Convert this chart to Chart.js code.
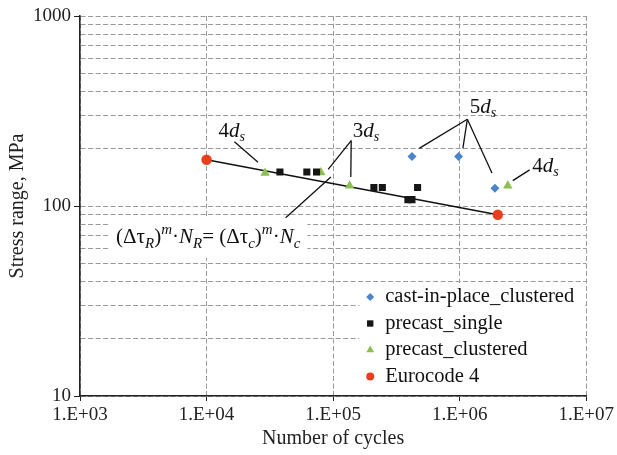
<!DOCTYPE html>
<html>
<head>
<meta charset="utf-8">
<script src="https://cdn.jsdelivr.net/npm/chart.js@4/dist/chart.umd.min.js"></script>
<style>
  html, body { margin: 0; padding: 0; background: #fff; }
  #wrap { width: 617px; height: 455px; }
</style>
</head>
<body>
<div id="wrap"><canvas id="snChart"></canvas></div>
<script>
// data (cycles, stress range in MPa)
const castInPlaceN = [4.2e5, 9.8e5, 1.9e6];
const castInPlaceS = [182, 182, 124];
const precastSingleN = [3.8e4, 6.2e4, 7.4e4, 2.1e5, 2.45e5, 3.9e5, 4.2e5, 4.65e5];
const precastSingleS = [151, 151, 151, 125, 125, 108, 108, 125];
const precastClusteredN = [2.9e4, 8.0e4, 1.35e5, 2.4e6];
const precastClusteredS = [149, 150, 128, 128];
const eurocodeN = [1e4, 2e6];
const eurocodeS = [175, 90];

const seriesNames = ['cast-in-place_clustered', 'precast_single', 'precast_clustered', 'Eurocode 4'];
const xTickValues = [1e3, 1e4, 1e5, 1e6, 1e7];
const yTickValues = [10, 20, 30, 40, 50, 60, 70, 80, 90, 100, 200, 300, 400, 500, 600, 700, 800, 900, 1000];

const SERIF = '"Liberation Serif", "DejaVu Serif", serif';

function pts(xs, ys) { return xs.map((x, i) => ({ x: x, y: ys[i] })); }

// leader lines + labels, in data coordinates
const leaders = [
  { label: '4', sub: 's', at: [1.58e4, 251], lines: [[[1.66e4, 218], [2.55e4, 170]]] },
  { label: '3', sub: 's', at: [1.82e5, 251], lines: [[[1.39e5, 221], [9.14e4, 156]], [[1.39e5, 221], [1.38e5, 142]]] },
  { label: '5', sub: 's', at: [1.53e6, 336], lines: [[[1.15e6, 286], [4.79e5, 201]], [[1.15e6, 286], [1.06e6, 201]], [[1.15e6, 286], [1.8e6, 149]]] },
  { label: '4', sub: 's', at: [4.77e6, 164], lines: [[[3.57e6, 155], [2.63e6, 136]]] }
];
const formulaLine = [[4.2e4, 86.5], [9.6e4, 142]];
const formulaAt = [1.03e4, 64];

const isMajor = v => Math.abs(Math.log10(v) - Math.round(Math.log10(v))) < 1e-9;

const overlay = {
  id: 'overlay',
  afterDatasetsDraw(chart) {
    const ctx = chart.ctx;
    const xs = chart.scales.x, ys = chart.scales.y;
    const px = p => [xs.getPixelForValue(p[0]), ys.getPixelForValue(p[1])];
    ctx.save();
    ctx.strokeStyle = '#111';
    ctx.lineWidth = 1.3;
    ctx.fillStyle = '#111';
    ctx.textBaseline = 'alphabetic';
    ctx.textAlign = 'left';

    // leaders
    leaders.forEach(a => {
      a.lines.forEach(l => {
        const p0 = px(l[0]), p1 = px(l[1]);
        ctx.beginPath(); ctx.moveTo(p0[0], p0[1]); ctx.lineTo(p1[0], p1[1]); ctx.stroke();
      });
      const c = px(a.at);
      ctx.font = '21px ' + SERIF;
      const w1 = ctx.measureText(a.label).width;
      ctx.font = 'italic 21px ' + SERIF;
      const w2 = ctx.measureText('d').width;
      ctx.font = 'italic 14px ' + SERIF;
      const w3 = ctx.measureText(a.sub).width;
      let x = c[0] - (w1 + w2 + w3) / 2;
      const y = c[1] + 7;
      ctx.font = '21px ' + SERIF; ctx.fillText(a.label, x, y); x += w1;
      ctx.font = 'italic 21px ' + SERIF; ctx.fillText('d', x, y); x += w2;
      ctx.font = 'italic 14px ' + SERIF; ctx.fillText(a.sub, x, y + 4);
    });

    // formula line
    const f0 = px(formulaLine[0]), f1 = px(formulaLine[1]);
    ctx.beginPath(); ctx.moveTo(f0[0], f0[1]); ctx.lineTo(f1[0], f1[1]); ctx.stroke();

    // formula box + text
    const parts = [
      ['(\u0394\u03c4', 'n'], ['R', 'sub'], [')', 'n'], ['m', 'sup'], ['\u00b7', 'n'], ['N', 'i'], ['R', 'sub'],
      ['= (\u0394\u03c4', 'n'], ['c', 'sub'], [')', 'n'], ['m', 'sup'], ['\u00b7', 'n'], ['N', 'i'], ['c', 'sub']
    ];
    const fontOf = s => s === 'n' ? '21px ' + SERIF : s === 'i' ? 'italic 21px ' + SERIF : 'italic 15px ' + SERIF;
    let total = 0;
    parts.forEach(p => { ctx.font = fontOf(p[1]); p.w = ctx.measureText(p[0]).width; total += p.w; });
    const fc = px(formulaAt);
    ctx.fillStyle = '#fff';
    ctx.fillRect(fc[0] - total / 2 - 7, fc[1] - 25, total + 14, 40);
    ctx.fillStyle = '#111';
    let fx = fc[0] - total / 2;
    parts.forEach(p => {
      ctx.font = fontOf(p[1]);
      const dy = p[1] === 'sub' ? 5 : p[1] === 'sup' ? -9 : 0;
      ctx.fillText(p[0], fx, fc[1] + dy);
      fx += p.w;
    });

    // legend inside plot, bottom right
    const area = chart.chartArea;
    const lw = 226, lh = 112;
    const lx = area.right - lw - 1, ly = area.bottom - lh - 1;
    ctx.fillStyle = '#fff';
    ctx.fillRect(lx, ly, lw, lh);
    chart.data.datasets.forEach((ds, i) => {
      const ry = ly + 14 + i * 26.5;
      ctx.fillStyle = ds.backgroundColor;
      ctx.strokeStyle = ds.backgroundColor;
      Chart.helpers.drawPoint(ctx, { pointStyle: ds.pointStyle, radius: ds.legendRadius, rotation: 0, borderWidth: 0 }, lx + 11, ry);
      ctx.fillStyle = '#111';
      ctx.font = '20.5px ' + SERIF;
      ctx.textBaseline = 'middle';
      ctx.fillText(ds.label, lx + 26, ry);
      ctx.textBaseline = 'alphabetic';
    });
    ctx.restore();
  }
};

const gridDash = [5, 2.5];

new Chart(document.getElementById('snChart'), {
  type: 'scatter',
  data: {
    datasets: [
      { label: seriesNames[0], data: pts(castInPlaceN, castInPlaceS), backgroundColor: '#4a85c9', borderColor: '#4a85c9',
        pointStyle: 'rectRot', pointRadius: 4.5, borderWidth: 0, legendRadius: 4 },
      { label: seriesNames[1], data: pts(precastSingleN, precastSingleS), backgroundColor: '#161616', borderColor: '#161616',
        pointStyle: 'rect', pointRadius: 5, borderWidth: 0, legendRadius: 4.5 },
      { label: seriesNames[2], data: pts(precastClusteredN, precastClusteredS), backgroundColor: '#8dbf52', borderColor: '#8dbf52',
        pointStyle: 'triangle', pointRadius: 5.5, borderWidth: 0, legendRadius: 4.5 },
      { label: seriesNames[3], data: pts(eurocodeN, eurocodeS), backgroundColor: '#e8401f', borderColor: '#111',
        pointBorderColor: '#e8401f', pointStyle: 'circle', pointRadius: 4.5, borderWidth: 1.5, showLine: true, legendRadius: 4 }
    ]
  },
  options: {
    responsive: true,
    maintainAspectRatio: false,
    animation: false,
    layout: { padding: { top: 16, right: 27, left: 0, bottom: 0 } },
    plugins: { legend: { display: false }, tooltip: { enabled: false } },
    scales: {
      x: {
        type: 'logarithmic', min: 1e3, max: 1e7,
        afterBuildTicks: s => { s.ticks = xTickValues.map(v => ({ value: v, major: true })); },
        afterFit: s => { s.height = 59; },
        ticks: {
          color: '#222', font: { family: SERIF, size: 19 }, padding: 3, maxRotation: 0, autoSkip: false,
          callback: v => '1.E+' + String(Math.round(Math.log10(v))).padStart(2, '0')
        },
        grid: { color: '#9a9a9a', lineWidth: 1, tickColor: '#222', tickLength: 5 },
        border: { display: true, color: '#222', width: 1.6, dash: gridDash },
        title: { display: true, text: 'Number of cycles', color: '#222', font: { family: SERIF, size: 20 }, padding: { top: 0 } }
      },
      y: {
        type: 'logarithmic', min: 10, max: 1000,
        afterBuildTicks: s => { s.ticks = yTickValues.map(v => ({ value: v, major: isMajor(v) })); },
        afterFit: s => { s.width = 80; },
        ticks: {
          color: '#222', font: { family: SERIF, size: 19 }, padding: 3, autoSkip: false,
          callback: v => isMajor(v) ? String(v) : ''
        },
        grid: {
          color: '#9a9a9a', lineWidth: 1, tickLength: 6,
          tickColor: c => (c.tick && c.tick.major) ? '#222' : 'rgba(0,0,0,0)'
        },
        border: { display: true, color: '#222', width: 1.6, dash: gridDash },
        title: { display: true, text: 'Stress range, MPa', color: '#222', font: { family: SERIF, size: 20 }, padding: { top: 6, bottom: 0 } }
      }
    }
  },
  plugins: [overlay]
});
</script>
</body>
</html>
